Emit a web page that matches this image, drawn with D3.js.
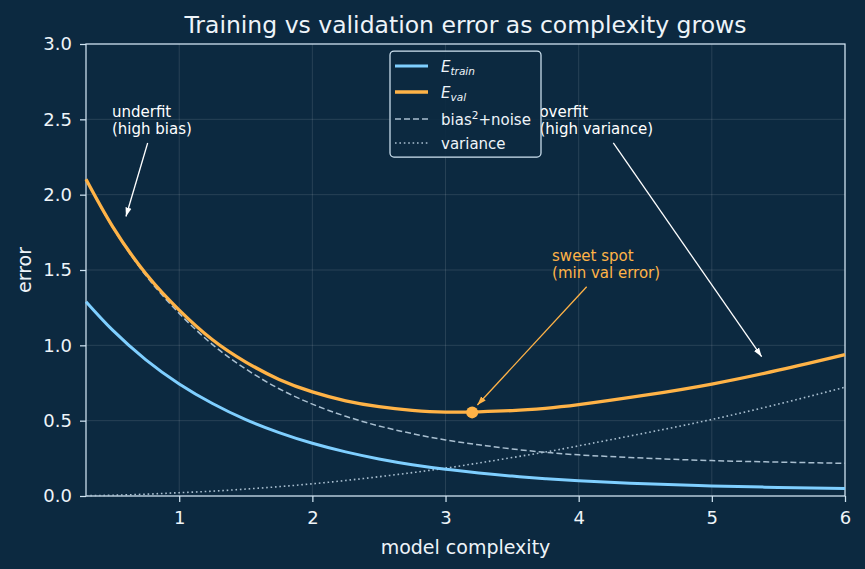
<!DOCTYPE html>
<html>
  <head>
    <title>Training vs validation error</title>
    <script src="https://cdn.jsdelivr.net/npm/d3@7"></script>
    <style>
      body { margin: 0; background: #0c2940; }
      svg { font-family: "DejaVu Sans", sans-serif; display: block; }
    </style>
  </head>
  <body>
    <svg width="865" height="569" id="mainsvg"></svg>
    <script>

    // values
    const complexity = [0.3, 0.5, 0.75, 1, 1.25, 1.5, 1.75, 2, 2.25, 2.5, 2.75, 3, 3.25, 3.5, 3.75, 4, 4.5, 5, 5.5, 6];
    const trainErr   = [1.29, 1.101, 0.904, 0.744, 0.614, 0.507, 0.421, 0.35, 0.293, 0.246, 0.208, 0.178, 0.153, 0.132, 0.115, 0.101, 0.081, 0.067, 0.057, 0.049];
    const biasNoise  = [2.10, 1.783, 1.463, 1.212, 1.005, 0.843, 0.712, 0.61, 0.529, 0.465, 0.414, 0.372, 0.34, 0.312, 0.29, 0.273, 0.251, 0.235, 0.225, 0.217];
    const variance   = [0.002, 0.005, 0.012, 0.022, 0.032, 0.046, 0.062, 0.081, 0.103, 0.128, 0.155, 0.185, 0.219, 0.255, 0.292, 0.333, 0.418, 0.508, 0.61, 0.722];
    const valErr     = [2.102, 1.788, 1.475, 1.234, 1.037, 0.889, 0.774, 0.691, 0.632, 0.593, 0.569, 0.557, 0.559, 0.567, 0.582, 0.606, 0.669, 0.743, 0.835, 0.939];
    const sweetSpot  = [3.2, 0.555];
    const xTicks = [1, 2, 3, 4, 5, 6];
    const yTicks = [0, 0.5, 1, 1.5, 2, 2.5, 3];

    const svg = d3.select('svg');
    const margin = {left: 86, right: 20, top: 44, bottom: 73};
    const width = +svg.attr('width');
    const height = +svg.attr('height');

    const x = d3.scaleLinear().domain([0.3, 6]).range([margin.left, width - margin.right]);
    const y = d3.scaleLinear().domain([0, 3]).range([height - margin.bottom, margin.top]);

    const bg = '#0c2940';
    const fg = '#eef4f9';
    const spine = '#cfe3f1';
    const cTrain = '#7fcfff';
    const cVal = '#ffb347';
    const cAux = '#a9bfd0';

    svg.append('rect').attr('width', width).attr('height', height).attr('fill', bg);

    // grid
    const grid = svg.append('g');
    grid.selectAll('.gx').data(xTicks).enter().append('line')
      .attr('x1', d => x(d)).attr('x2', d => x(d))
      .attr('y1', y(0)).attr('y2', y(3))
      .attr('stroke', '#ffffff').attr('stroke-opacity', 0.15).attr('stroke-width', 0.8);
    grid.selectAll('.gy').data(yTicks).enter().append('line')
      .attr('x1', x(0.3)).attr('x2', x(6))
      .attr('y1', d => y(d)).attr('y2', d => y(d))
      .attr('stroke', '#ffffff').attr('stroke-opacity', 0.15).attr('stroke-width', 0.8);

    // axes
    const xAxis = svg.append('g').attr('transform', `translate(0,${y(0)})`)
      .call(d3.axisBottom(x).tickValues(xTicks).tickFormat(d3.format('d')).tickSizeOuter(0).tickSize(6).tickPadding(9));
    const yAxis = svg.append('g').attr('transform', `translate(${x(0.3)},0)`)
      .call(d3.axisLeft(y).tickValues(yTicks).tickFormat(d3.format('.1f')).tickSizeOuter(0).tickSize(6).tickPadding(8));
    [xAxis, yAxis].forEach(a => {
      a.select('.domain').remove();
      a.selectAll('line').attr('stroke', spine).attr('stroke-width', 1.25);
      a.selectAll('text').attr('fill', fg).attr('font-size', 18).attr('font-family', '"DejaVu Sans", sans-serif');
    });

    // spines
    svg.append('rect')
      .attr('x', x(0.3)).attr('y', y(3))
      .attr('width', x(6) - x(0.3)).attr('height', y(0) - y(3))
      .attr('fill', 'none').attr('stroke', spine).attr('stroke-width', 1.25);

    // curves
    const line = vals => d3.line()
      .x((d, i) => x(complexity[i]))
      .y(d => y(d))
      .curve(d3.curveNatural)(vals);

    svg.append('path').attr('d', line(variance)).attr('fill', 'none')
      .attr('stroke', cAux).attr('stroke-width', 1.6).attr('stroke-dasharray', '1.6,2.8');
    svg.append('path').attr('d', line(biasNoise)).attr('fill', 'none')
      .attr('stroke', cAux).attr('stroke-width', 1.5).attr('stroke-dasharray', '6,3');
    svg.append('path').attr('d', line(trainErr)).attr('fill', 'none')
      .attr('stroke', cTrain).attr('stroke-width', 3);
    svg.append('path').attr('d', line(valErr)).attr('fill', 'none')
      .attr('stroke', cVal).attr('stroke-width', 3.3);

    svg.append('circle').attr('cx', x(sweetSpot[0])).attr('cy', y(sweetSpot[1]))
      .attr('r', 6).attr('fill', cVal);

    // arrow markers
    const defs = svg.append('defs');
    [['arrW', '#ffffff'], ['arrO', cVal]].forEach(([id, c]) => {
      defs.append('marker').attr('id', id).attr('viewBox', '0 0 10 10')
        .attr('refX', 10).attr('refY', 5).attr('markerWidth', 9).attr('markerHeight', 9)
        .attr('markerUnits', 'userSpaceOnUse').attr('orient', 'auto')
        .append('path').attr('d', 'M0,1.6L10,5L0,8.4z').attr('fill', c);
    });

    // annotations: text lines, text position (data), arrow start and tip (data)
    function annotate(lines, tx, ty, from, to, colour, marker) {
      const t = svg.append('text').attr('x', x(tx)).attr('y', y(ty))
        .attr('fill', colour).attr('font-size', 15);
      lines.forEach((s, i) => t.append('tspan').attr('x', x(tx)).attr('dy', i ? 17.3 : 0).text(s));
      svg.append('line')
        .attr('x1', x(from[0])).attr('y1', y(from[1]))
        .attr('x2', x(to[0])).attr('y2', y(to[1]))
        .attr('stroke', colour).attr('stroke-width', 1.3)
        .attr('marker-end', `url(#${marker})`);
    }
    annotate(['underfit', '(high bias)'], 0.495, 2.518, [0.763, 2.343], [0.6, 1.855], '#ffffff', 'arrW');
    annotate(['overfit', '(high variance)'], 3.705, 2.518, [4.26, 2.343], [5.374, 0.925], '#ffffff', 'arrW');
    annotate(['sweet spot', '(min val error)'], 3.8, 1.563, [4.06, 1.389], [3.239, 0.604], cVal, 'arrO');

    // legend (drawn over the annotations)
    const lg = svg.append('g').attr('transform', 'translate(390,51)');
    lg.append('rect').attr('width', 151).attr('height', 106).attr('rx', 4)
      .attr('fill', bg).attr('fill-opacity', 0.9)
      .attr('stroke', spine).attr('stroke-width', 1.25);
    const items = [
      {label: ['E', 'train', 'sub'], color: cTrain, w: 3, dash: null},
      {label: ['E', 'val', 'sub'], color: cVal, w: 3.3, dash: null},
      {label: ['bias', '2', 'sup', '+noise'], color: cAux, w: 1.5, dash: '6,3'},
      {label: ['variance'], color: cAux, w: 1.6, dash: '1.6,2.8'}
    ];
    const rowY = [15, 41, 68, 92];
    items.forEach((it, i) => {
      const g = lg.append('g').attr('transform', `translate(0,${rowY[i]})`);
      g.append('line').attr('x1', 5).attr('x2', 38).attr('y1', 0).attr('y2', 0)
        .attr('stroke', it.color).attr('stroke-width', it.w)
        .attr('stroke-dasharray', it.dash);
      const t = g.append('text').attr('x', 51).attr('y', 5.5).attr('fill', fg).attr('font-size', 15);
      if (it.label[2] === 'sub') {
        t.append('tspan').attr('font-style', 'italic').text(it.label[0]);
        t.append('tspan').attr('font-style', 'italic').attr('font-size', 10.5).attr('dy', 3.5).text(it.label[1]);
      } else if (it.label[2] === 'sup') {
        t.append('tspan').text(it.label[0]);
        t.append('tspan').attr('font-size', 10.5).attr('dy', -6).text(it.label[1]);
        t.append('tspan').attr('dy', 6).text(it.label[3]);
      } else {
        t.text(it.label[0]);
      }
    });

    // title and labels
    svg.append('text').attr('x', (x(0.3) + x(6)) / 2).attr('y', 33)
      .attr('text-anchor', 'middle').attr('fill', fg).attr('font-size', 23.5)
      .text('Training vs validation error as complexity grows');
    svg.append('text').attr('x', (x(0.3) + x(6)) / 2).attr('y', 554)
      .attr('text-anchor', 'middle').attr('fill', fg).attr('font-size', 19)
      .text('model complexity');
    svg.append('text').attr('transform', `translate(31,${(y(0) + y(3)) / 2}) rotate(-90)`)
      .attr('text-anchor', 'middle').attr('fill', fg).attr('font-size', 19)
      .text('error');

  </script>
  </body>
</html>
